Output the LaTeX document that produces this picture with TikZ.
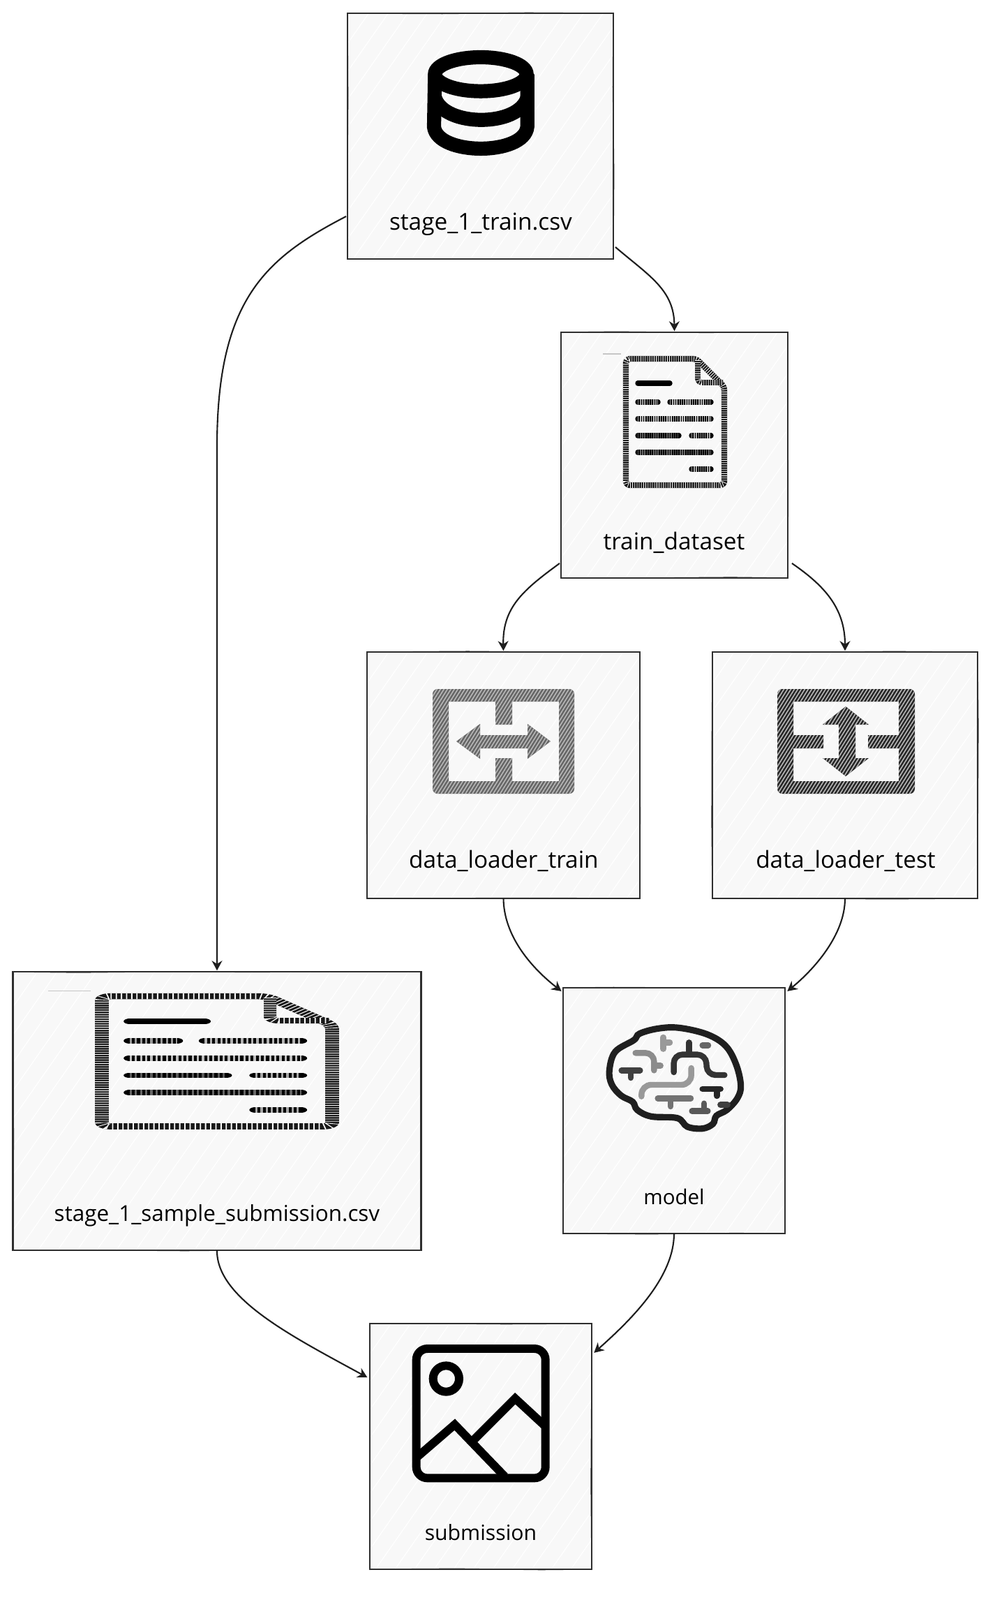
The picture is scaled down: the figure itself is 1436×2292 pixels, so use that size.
\documentclass[tikz,border=0pt]{standalone}
\usepackage{fontspec}
\setmainfont{Open Sans}
\usetikzlibrary{arrows.meta,patterns.meta,calc,decorations.pathmorphing}
\definecolor{sketchInk}{HTML}{2E2E2E}
\definecolor{sketchPaper}{HTML}{F8F8F8}
\definecolor{sketchArrow}{HTML}{1E1E1E}
\tikzset{
    sketchbox/.style={draw=sketchInk, line width=1.5pt, fill=sketchPaper, inner sep=0pt, outer sep=0pt,
        path picture={
            \foreach \i in {-1000,-972,...,640}
                \draw[white, line width=0.7pt] ($(path picture bounding box.south west)+(\i,0)$) -- ++(420,-600);
        },
        postaction={draw=sketchInk, line width=0.7pt, decorate,
            decoration={random steps, segment length=70pt, amplitude=0.6pt}}},
    boxlabel/.style={anchor=base, font=\fontsize{#1}{22}\selectfont, text=black, inner sep=0pt},
    boxlabel/.default=19,
    flow/.style={draw=sketchArrow, line width=1.2pt, -{Stealth[length=8pt,width=8.5pt]}, shorten >=1pt},
    hatchstroke/.style={draw=black!90, line width=#1, line join=round,
        postaction={draw=white, line cap=butt, dash pattern=on 0.45pt off 1.35pt}},
    loadericon/.style={even odd rule, preaction={fill=#1},
        pattern={Lines[angle=58,distance=2.4pt,line width=0.9pt]}, pattern color=gray!55},
    brainstroke/.style={line width=4.8pt, line cap=round, rounded corners=7pt}
}
\newcommand{\fileicon}{
    \draw[hatchstroke=4.8pt, rounded corners=3pt] (3,4) -- (104,4) -- (144,44) -- (144,185) -- (3,185) -- cycle;
    \draw[hatchstroke=4.4pt, rounded corners=3pt] (106,6) -- (106,38) -- (142,38);
    \draw[gray!45, line width=0.6pt] (-30,-3) -- (-4,-3);
    \foreach \xa/\xb/\yy/\p in {20/66/39/0, 20/49/66/60, 66/125/66/70, 20/125/90/75, 20/79/114/35, 97/125/114/65, 20/125/138/40, 97/125/162/65}
        \draw[line width=4.2pt, line cap=round, black,
            postaction={draw=white!\p!black, line cap=butt, dash pattern=on 0.8pt off 1pt}] (\xa,\yy) -- (\xb,\yy);
}

\begin{document}
\begin{tikzpicture}[x=0.02cm, y=-0.02cm]
    \useasboundingbox (0,0) rectangle (1436,2292);

    % Boxes
    \node[sketchbox, minimum width=7.62cm, minimum height=7.04cm] (stage) at (688.5,195) {};
    \node[sketchbox, minimum width=6.50cm, minimum height=7.04cm] (train) at (966.5,652) {};
    \node[sketchbox, minimum width=7.82cm, minimum height=7.06cm] (loadertrain) at (721.5,1110.5) {};
    \node[sketchbox, minimum width=7.60cm, minimum height=7.06cm] (loadertest) at (1211,1110.5) {};
    \node[sketchbox, minimum width=11.70cm, minimum height=7.98cm] (sample) at (311,1591.5) {};
    \node[sketchbox, minimum width=6.36cm, minimum height=7.04cm] (model) at (966,1591) {};
    \node[sketchbox, minimum width=6.36cm, minimum height=7.04cm] (submission) at (689,2072) {};

    % Labels
    \node[boxlabel] (stagetext) at (689,329) {stage\_1\_train.csv};
    \node[boxlabel] (traintext) at (966,787) {train\_dataset};
    \node[boxlabel] (loadertraintext) at (722,1243) {data\_loader\_train};
    \node[boxlabel] (loadertesttext) at (1212,1243) {data\_loader\_test};
    \node[boxlabel=17.9] (sampletext) at (311,1749) {stage\_1\_sample\_submission.csv};
    \node[boxlabel=16.8] (modeltext) at (966,1725) {model};
    \node[boxlabel=17.2] (submissiontext) at (689,2206) {submission};

    % Connectors
    \draw[flow] ($(stage.south west)+(-2,-61)$) .. controls (380,370) and (311,430) .. (311,640) -- (sample.north);
    \draw[flow] ($(stage.south east)+(3,-17)$) .. controls (930,395) and (966,415) .. (train.north);
    \draw[flow] ($(train.south west)+(-2,-21)$) .. controls (750,845) and (720,870) .. (loadertrain.north);
    \draw[flow] ($(train.south east)+(6,-21)$) .. controls (1180,838) and (1211,870) .. (loadertest.north);
    \draw[flow] (loadertrain.south) .. controls (722,1340) and (760,1385) .. ($(model.north west)+(-1,6)$);
    \draw[flow] (loadertest.south) .. controls (1211,1340) and (1165,1390) .. ($(model.north east)+(2,6)$);
    \draw[flow] (sample.south) .. controls (310,1860) and (420,1915) .. ($(submission.north west)+(-2,78)$);
    \draw[flow] (model.south) .. controls (966,1830) and (905,1890) .. ($(submission.north east)+(2,43)$);

    % Database icon
    \begin{scope}[shift={(480,0)}, scale=1/3, line width=11.5pt, black]
        \draw (627,319) ellipse [x radius=197, y radius=73];
        \draw (430,319) -- (426,545) .. controls (440,670) and (815,670) .. (827,545) -- (827,319);
        \draw (430,420) .. controls (470,547) and (790,547) .. (827,420);
    \end{scope}

    % File icons
    \begin{scope}[shift={(894,510)}]
        \fileicon
    \end{scope}
    \begin{scope}[transform canvas={shift={(139,1423)}, xscale=2.34, yscale=1.03}]
        \fileicon
    \end{scope}

    % Loader icons
    \fill[loadericon=black!60] (620,987) [rounded corners=4pt] rectangle (823,1137) [sharp corners]
        (643,1005) -- (710,1005) -- (710,1038) -- (734,1038) -- (734,1005) -- (801,1005) -- (801,1119)
        -- (734,1119) -- (734,1086) -- (710,1086) -- (710,1119) -- (643,1119) -- cycle;
    \fill[loadericon=black!60] (654,1062) -- (688,1037) -- (688,1053) -- (756,1053) -- (756,1037) -- (789,1062)
        -- (756,1087) -- (756,1072) -- (688,1072) -- (688,1087) -- cycle;
    \fill[loadericon=black!85] (1114,987) [rounded corners=4pt] rectangle (1311,1137) [sharp corners]
        (1137,1005) -- (1288,1005) -- (1288,1053) -- (1244,1053) -- (1244,1072) -- (1288,1072) -- (1288,1119)
        -- (1137,1119) -- (1137,1072) -- (1180,1072) -- (1180,1053) -- (1137,1053) -- cycle;
    \fill[loadericon=black!85] (1212,1012) -- (1245,1038) -- (1226,1038) -- (1226,1086) -- (1245,1086) -- (1212,1112)
        -- (1179,1086) -- (1202,1086) -- (1202,1038) -- (1179,1038) -- cycle;

    % Brain icon
    \begin{scope}[shift={(800,1410)}, scale=1/3]
        \draw[black!88, line width=5.2pt] plot[smooth cycle, tension=0.6] coordinates {(220,370) (245,290) (325,240) (350,212) (430,190) (520,187) (640,215) (720,265) (765,345) (785,435) (770,490) (725,540) (680,565) (665,600) (620,620) (555,612) (512,575) (400,568) (340,540) (320,505) (270,478) (230,430)};
        \draw[brainstroke, black!80] (497,378) -- (497,302) -- (635,302) -- (640,390) -- (715,390);
        \draw[brainstroke, black!80] (562,250) -- (562,302);
        \draw[brainstroke, black!45] (332,295) -- (412,295) -- (412,370);
        \draw[brainstroke, black!45] (412,350) -- (440,350);
        \draw[brainstroke, black!40] (452,228) -- (452,278);
        \draw[brainstroke, black!40] (452,250) -- (480,250);
        \draw[brainstroke, black!60] (620,262) -- (645,262);
        \draw[brainstroke, black!75] (272,370) -- (352,370);
        \draw[brainstroke, black!75] (312,370) -- (312,402);
        \draw[brainstroke, black!40, rounded corners=8pt] (572,360) -- (572,432) -- (358,432) -- (358,482);
        \draw[brainstroke, black!85] (620,450) -- (698,450);
        \draw[brainstroke, black!85] (682,450) -- (682,480);
        \draw[brainstroke, black!55] (428,490) -- (570,490);
        \draw[brainstroke, black!55] (483,490) -- (483,525);
        \draw[brainstroke, black!75] (697,518) -- (728,518);
        \draw[brainstroke, black!65] (575,545) -- (643,545);
        \draw[brainstroke, black!65] (627,545) -- (627,512);
    \end{scope}

    % Image icon
    \begin{scope}[shift={(520,1880)}, scale=1/3, line width=6.8pt, black]
        \draw[rounded corners=9pt] (230,156) rectangle (785,712);
        \draw (358,285) circle [radius=56];
        \draw (235,620) -- (395,482) -- (610,705);
        \draw (465,560) -- (655,370) -- (785,490);
    \end{scope}
\end{tikzpicture}
\end{document}
